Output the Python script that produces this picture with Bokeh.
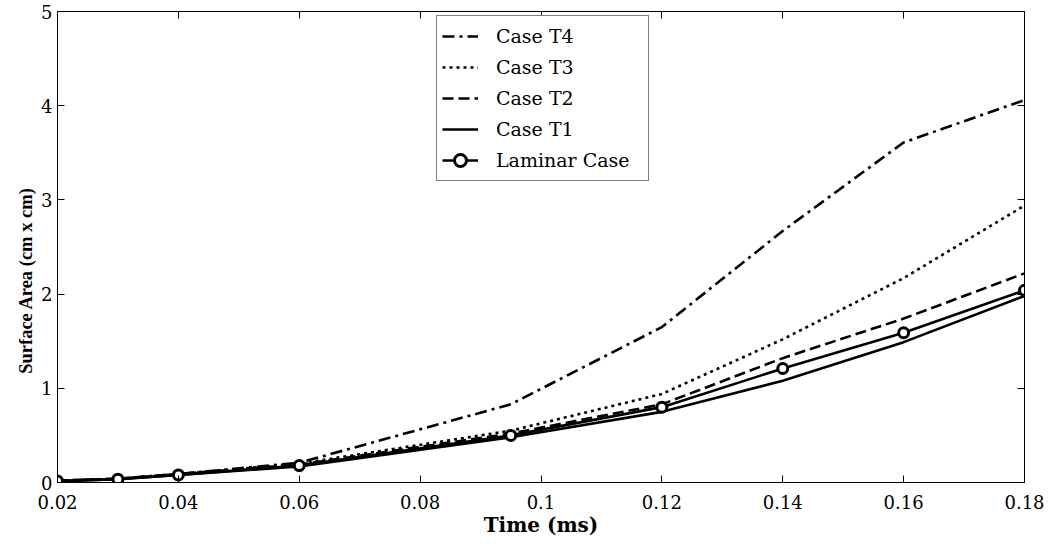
import math
from bokeh.plotting import figure
from bokeh.models import (FixedTicker, CustomJSTickFormatter, LinearAxis, Legend,
                          LegendItem, Range1d, Label)
from bokeh.embed import file_html
from bokeh.resources import INLINE

# ---- data ----
time_ms = [0.02, 0.03, 0.04, 0.06, 0.095, 0.12, 0.14, 0.16, 0.18]
case_t4 = [0.02, 0.04, 0.09, 0.21, 0.83, 1.65, 2.67, 3.61, 4.06]
case_t3 = [0.02, 0.04, 0.09, 0.20, 0.55, 0.94, 1.52, 2.17, 2.94]
case_t2 = [0.02, 0.04, 0.09, 0.19, 0.52, 0.83, 1.32, 1.74, 2.22]
case_t1 = [0.015, 0.035, 0.08, 0.17, 0.48, 0.75, 1.08, 1.49, 1.98]
laminar = [0.015, 0.035, 0.08, 0.18, 0.50, 0.80, 1.21, 1.59, 2.04]

x_ticks = [0.02, 0.04, 0.06, 0.08, 0.1, 0.12, 0.14, 0.16, 0.18]
y_ticks = [0, 1, 2, 3, 4, 5]
x_title = "Time (ms)"
y_title = "Surface Area (cm x cm)"

TICK_FONT = "DejaVu Serif"

p = figure(width=1055, height=544, output_backend="svg", toolbar_location=None,
           x_range=Range1d(0.02, 0.18), y_range=Range1d(0, 5),
           min_border_left=57, min_border_right=31, min_border_top=11,
           min_border_bottom=62)
p.frame_width = 967
p.frame_height = 471
p.xgrid.visible = False
p.ygrid.visible = False
p.outline_line_color = "black"
p.outline_line_width = 1
p.background_fill_color = "white"
p.border_fill_color = "white"

fmt = CustomJSTickFormatter(code="""
    let s = tick.toFixed(2);
    if (s.indexOf('.') >= 0) { s = s.replace(/0+$/, '').replace(/\\.$/, ''); }
    return s;
""")

def style_axis(ax, ticks):
    ax.ticker = FixedTicker(ticks=ticks)
    ax.axis_line_color = "black"
    ax.major_tick_line_color = "black"
    ax.major_tick_in = 7
    ax.major_tick_out = 0
    ax.minor_tick_line_color = None
    ax.major_label_text_font = TICK_FONT
    ax.major_label_text_font_size = "18px"
    ax.major_label_text_color = "black"

xa = p.xaxis[0]
style_axis(xa, x_ticks)
xa.formatter = fmt
xa.major_label_standoff = 12
xa.axis_label = x_title
xa.axis_label_text_font = TICK_FONT
xa.axis_label_text_font_style = "bold"
xa.axis_label_text_font_size = "20px"
xa.axis_label_text_color = "black"
xa.axis_label_standoff = 1

ya = p.yaxis[0]
style_axis(ya, y_ticks)
ya.major_label_standoff = 5

top_ax = LinearAxis()
style_axis(top_ax, x_ticks)
top_ax.major_label_text_font_size = "0px"
top_ax.major_label_text_color = None
top_ax.major_label_standoff = 0
p.add_layout(top_ax, "above")

right_ax = LinearAxis()
style_axis(right_ax, y_ticks)
right_ax.major_label_text_font_size = "0px"
right_ax.major_label_text_color = None
right_ax.major_label_standoff = 0
p.add_layout(right_ax, "right")

# y-axis title, placed a little below the frame centre as in the reference
ylab = Label(x=7, y=202, x_units="screen", y_units="screen", text=y_title,
             angle=math.pi / 2, text_align="center", text_baseline="middle",
             text_font="Liberation Serif", text_font_style="bold",
             text_font_size="18.5px", text_color="black")
p.add_layout(ylab, "left")

LW = 2.6
r4 = p.line(time_ms, case_t4, line_color="black", line_width=LW, line_dash="12 5 3 5")
r3 = p.line(time_ms, case_t3, line_color="black", line_width=LW, line_dash="3 4")
r2 = p.line(time_ms, case_t2, line_color="black", line_width=LW, line_dash="11 5")
r1 = p.line(time_ms, case_t1, line_color="black", line_width=LW)
rl = p.line(time_ms, laminar, line_color="black", line_width=LW)
rm = p.scatter(time_ms, laminar, marker="circle", size=10, line_color="black",
               line_width=3, fill_color="white")

legend = Legend(items=[
    LegendItem(label="Case T4", renderers=[r4]),
    LegendItem(label="Case T3", renderers=[r3]),
    LegendItem(label="Case T2", renderers=[r2]),
    LegendItem(label="Case T1", renderers=[r1]),
    LegendItem(label="Laminar Case", renderers=[rl, rm]),
])
legend.location = (379, 301)
legend.border_line_color = "black"
legend.border_line_width = 1
legend.background_fill_color = "white"
legend.background_fill_alpha = 1
legend.label_text_font = TICK_FONT
legend.label_text_font_size = "19px"
legend.label_text_color = "black"
legend.glyph_width = 36
legend.glyph_height = 30
legend.label_height = 30
legend.label_width = 147
legend.label_standoff = 18
legend.spacing = 1
legend.padding = 5
legend.margin = 0
p.add_layout(legend, "center")

open("out.html", "w").write(file_html(p, INLINE))
